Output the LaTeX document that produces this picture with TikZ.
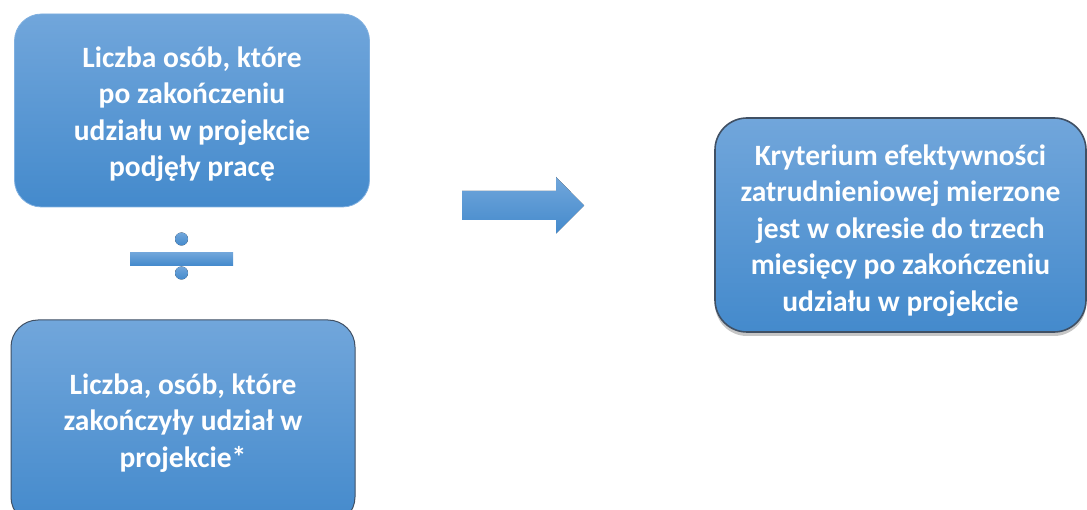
\documentclass[tikz,border=0pt]{standalone}
\usepackage{fontspec}
\setmainfont{Carlito}
\usetikzlibrary{shadows}
\definecolor{topblue}{RGB}{113,166,219}
\definecolor{botblue}{RGB}{68,138,204}
\definecolor{edgedark}{RGB}{64,80,100}
\tikzset{
  box/.style={rounded corners=27pt, top color=topblue, bottom color=botblue,
    inner sep=0pt},
  boxtext/.style={text=white, font=\fontsize{29.5}{36.5}\selectfont\bfseries,
    align=center, inner sep=0pt},
  darkedge/.style={draw=edgedark, line width=1pt},
  lightedge/.style={draw=topblue!90!white, line width=0.8pt},
  symfill/.style={top color=topblue, bottom color=botblue, draw=none},
}
\begin{document}
\begin{tikzpicture}[x=1pt,y=1pt]
\useasboundingbox (0,0) rectangle (1087,-510);
\clip (0,0) rectangle (1087,-510);
% top-left box
\node[box, lightedge, minimum width=355pt, minimum height=193pt] (num) at (192,-110.5) {};
\node[boxtext] (numtxt) at ([yshift=-3.5pt]num.center)
  {Liczba osób, które\\po zakończeniu\\udziału w projekcie\\podjęły pracę};
% bottom-left box
\node[box, darkedge, minimum width=344pt, minimum height=204pt] (den) at (183,-422) {};
\node[boxtext] (dentxt) at ([yshift=-1pt]den.center)
  {Liczba, osób, które\\zakończyły udział w\\projekcie*};
% right box
\node[box, draw=edgedark, line width=1.6pt, rounded corners=32pt,
  drop shadow={shadow xshift=0pt, shadow yshift=-4pt, opacity=0.45},
  minimum width=371pt, minimum height=214pt] (res) at (900.5,-225) {};
\node[boxtext] (restxt) at ([yshift=-5.5pt]res.center)
  {Kryterium efektywności\\zatrudnieniowej mierzone\\jest w okresie do trzech\\miesięcy po zakończeniu\\udziału w projekcie};
% division sign
\coordinate (div) at (181.5,-259);
\fill[symfill] ([yshift=20pt]div) circle (6.5pt);
\fill[symfill] ([xshift=-51.5pt,yshift=6.5pt]div) rectangle ([xshift=51.5pt,yshift=-6.5pt]div);
\fill[symfill] ([yshift=-14pt]div) circle (6.5pt);
% block arrow
\coordinate (arr) at (462,-205.5);
\fill[symfill] (arr) ++(0,14.5) -- ++(94,0) -- ++(0,14) -- (584,-205.5) -- (556,-233.5) -- (556,-220) -- ([yshift=-14.5pt]arr) -- cycle;
\end{tikzpicture}
\end{document}
